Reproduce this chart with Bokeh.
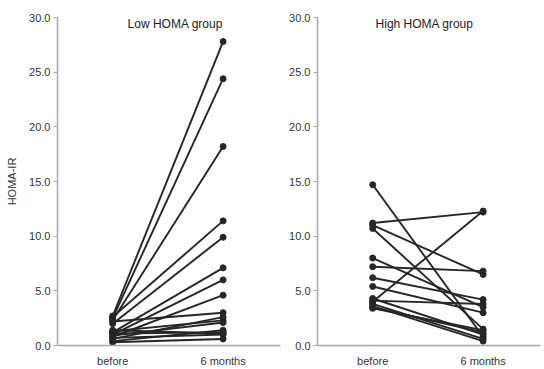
import numpy as np
from bokeh.plotting import figure
from bokeh.layouts import row
from bokeh.models import Range1d, FixedTicker, NumeralTickFormatter, Label
from bokeh.embed import file_html
from bokeh.resources import INLINE

# ---- data ----
time_labels = ["before", "6 months"]
y_ticks = [0, 5, 10, 15, 20, 25, 30]

low_before = [2.7, 2.5, 2.3, 2.6, 2.0, 1.2, 1.0, 0.8, 2.2, 0.6, 1.3, 0.9, 0.4, 1.1, 0.7, 1.4, 0.3]
low_months = [27.8, 24.4, 18.2, 11.4, 9.9, 7.1, 6.0, 4.6, 3.0, 2.6, 2.3, 2.1, 1.4, 1.2, 1.0, 1.1, 0.6]

high_before = [14.7, 11.2, 11.0, 10.7, 8.0, 7.2, 6.2, 5.4, 4.3, 4.0, 3.8, 3.6, 3.4, 4.1, 3.5]
high_months = [0.8, 12.2, 6.5, 1.5, 3.5, 6.8, 4.2, 3.0, 1.0, 12.3, 0.6, 0.4, 1.4, 3.8, 1.2]

LINE = "#262626"
AXIS = "#a8a8a8"
TEXT = "#333333"
FONT = "Liberation Sans"


def make_panel(before, months, title, title_x, width, border_left, border_right, ylabel):
    p = figure(width=width, height=369, output_backend="svg", toolbar_location=None,
               x_range=Range1d(-0.5, 1.52), y_range=Range1d(0, 30),
               min_border_left=border_left, min_border_right=border_right,
               min_border_top=17, min_border_bottom=23)
    p.outline_line_color = None
    p.xgrid.visible = False
    p.ygrid.visible = False
    p.background_fill_color = "white"
    p.border_fill_color = "white"

    for b, m in zip(before, months):
        p.line([0, 1], [b, m], line_color=LINE, line_width=1.9)
    xs = [0] * len(before) + [1] * len(months)
    ys = list(before) + list(months)
    p.scatter(xs, ys, size=6, fill_color=LINE, line_color=LINE)

    # x axis
    p.xaxis.ticker = FixedTicker(ticks=[0, 1])
    p.xaxis.major_label_overrides = {0: time_labels[0], 1: time_labels[1]}
    p.xaxis.major_tick_line_color = None
    p.xaxis.major_tick_in = 0
    p.xaxis.major_tick_out = 0
    p.xaxis.minor_tick_line_color = None
    p.xaxis.minor_tick_out = 0
    p.xaxis.axis_line_color = AXIS
    p.xaxis.axis_line_width = 1.5
    p.xaxis.major_label_standoff = 9
    p.xaxis.major_label_text_font = FONT
    p.xaxis.major_label_text_font_size = "11px"
    p.xaxis.major_label_text_color = TEXT

    # y axis
    p.yaxis.ticker = FixedTicker(ticks=y_ticks)
    p.yaxis.formatter = NumeralTickFormatter(format="0.0")
    p.yaxis.minor_tick_line_color = None
    p.yaxis.major_tick_in = 0
    p.yaxis.major_tick_out = 4
    p.yaxis.major_tick_line_color = AXIS
    p.yaxis.axis_line_color = AXIS
    p.yaxis.axis_line_width = 1.5
    p.yaxis.major_label_standoff = 3
    p.yaxis.major_label_text_font = FONT
    p.yaxis.major_label_text_font_size = "11px"
    p.yaxis.major_label_text_color = TEXT
    if ylabel:
        p.yaxis.axis_label = ylabel
        p.yaxis.axis_label_text_font = FONT
        p.yaxis.axis_label_text_font_size = "11px"
        p.yaxis.axis_label_text_font_style = "normal"
        p.yaxis.axis_label_text_color = TEXT
        p.yaxis.axis_label_standoff = 8

    p.add_layout(Label(x=title_x, y=29.45, text=title, text_align="center",
                       text_baseline="middle", text_font=FONT,
                       text_font_size="12px", text_color="#222222"))
    return p


left = make_panel(low_before, low_months, "Low HOMA group", 0.567, 285, 57, 5, "HOMA-IR")
right = make_panel(high_before, high_months, "High HOMA group", 0.47, 259, 32, 4, None)

layout = row(left, right)
open("out.html", "w").write(file_html(layout, INLINE))
